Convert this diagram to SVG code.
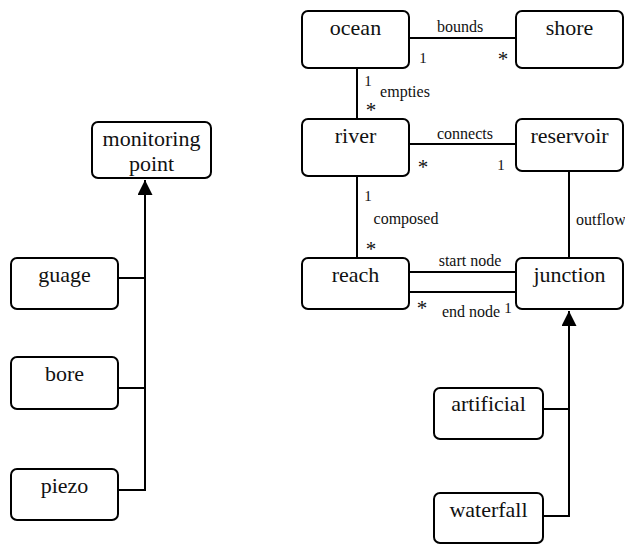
<svg xmlns="http://www.w3.org/2000/svg" width="625" height="544" viewBox="0 0 625 544">
<defs>
<marker id="tri" markerWidth="16" markerHeight="15" refX="15" refY="7.5" orient="auto" markerUnits="userSpaceOnUse">
<path d="M0,0 L15,7.5 L0,15 Z" fill="#000"/>
</marker>
</defs>
<g id="connectors">
<g fill="none" stroke="#000" stroke-width="2">
<line x1="409" y1="38" x2="516" y2="38"/>
<line x1="357" y1="68" x2="357" y2="119"/>
<line x1="409" y1="144" x2="516" y2="144"/>
<line x1="357" y1="176" x2="357" y2="258"/>
<line x1="409" y1="272" x2="516" y2="272"/>
<line x1="409" y1="292" x2="516" y2="292"/>
<line x1="569" y1="171" x2="569" y2="258"/>
<path d="M118,278 H145 M118,388 H145 M118,490 H145 V193"/>
<path d="M145,194 V180" marker-end="url(#tri)"/>
<path d="M543,409 H569 M543,516 H569 V326"/>
<path d="M569,327 V311" marker-end="url(#tri)"/>
</g>
<g font-family="Liberation Serif" font-size="16" fill="#111" text-anchor="middle">
<text font-family="Liberation Serif" x="460" y="32">bounds</text>
<text font-family="Liberation Serif" x="423" y="63" font-size="15">1</text>
<text font-family="Liberation Serif" x="503" y="66" font-size="21">*</text>
<text font-family="Liberation Serif" x="368" y="86" font-size="15">1</text>
<text font-family="Liberation Serif" x="405" y="97">empties</text>
<text font-family="Liberation Serif" x="371" y="117" font-size="21">*</text>
<text font-family="Liberation Serif" x="465" y="139">connects</text>
<text font-family="Liberation Serif" x="423" y="174" font-size="21">*</text>
<text font-family="Liberation Serif" x="501" y="170" font-size="15">1</text>
<text font-family="Liberation Serif" x="368" y="201" font-size="15">1</text>
<text font-family="Liberation Serif" x="406" y="224">composed</text>
<text font-family="Liberation Serif" x="371" y="256" font-size="21">*</text>
<text font-family="Liberation Serif" x="576" y="225" text-anchor="start">outflow</text>
<text font-family="Liberation Serif" x="470" y="266">start node</text>
<text font-family="Liberation Serif" x="422" y="315" font-size="21">*</text>
<text font-family="Liberation Serif" x="471" y="317">end node</text>
<text font-family="Liberation Serif" x="508" y="313" font-size="15">1</text>
</g>
</g>
<g font-family="Liberation Serif" font-size="22" fill="#111" text-anchor="middle">
<g id="ocean"><rect fill="#fff" stroke="#000" stroke-width="2" x="302" y="11" width="107" height="57" rx="6"/><text font-family="Liberation Serif" x="355.5" y="35">ocean</text></g>
<g id="shore"><rect fill="#fff" stroke="#000" stroke-width="2" x="516" y="11" width="107" height="57" rx="6"/><text font-family="Liberation Serif" x="569.5" y="35">shore</text></g>
<g id="river"><rect fill="#fff" stroke="#000" stroke-width="2" x="302" y="119" width="107" height="57" rx="6"/><text font-family="Liberation Serif" x="355.5" y="143">river</text></g>
<g id="reservoir"><rect fill="#fff" stroke="#000" stroke-width="2" x="516" y="119" width="107" height="52" rx="6"/><text font-family="Liberation Serif" x="569.5" y="143">reservoir</text></g>
<g id="reach"><rect fill="#fff" stroke="#000" stroke-width="2" x="302" y="258" width="107" height="51" rx="6"/><text font-family="Liberation Serif" x="355.5" y="282">reach</text></g>
<g id="junction"><rect fill="#fff" stroke="#000" stroke-width="2" x="516" y="258" width="107" height="51" rx="6"/><text font-family="Liberation Serif" x="569.5" y="282">junction</text></g>
<g id="monitoring-point"><rect fill="#fff" stroke="#000" stroke-width="2" x="92" y="122" width="119" height="56" rx="6"/><text font-family="Liberation Serif" x="151.5" y="146">monitoring</text><text font-family="Liberation Serif" x="151.5" y="171">point</text></g>
<g id="guage"><rect fill="#fff" stroke="#000" stroke-width="2" x="11" y="258" width="107" height="51" rx="6"/><text font-family="Liberation Serif" x="64.5" y="282">guage</text></g>
<g id="bore"><rect fill="#fff" stroke="#000" stroke-width="2" x="11" y="357" width="107" height="52" rx="6"/><text font-family="Liberation Serif" x="64.5" y="381">bore</text></g>
<g id="piezo"><rect fill="#fff" stroke="#000" stroke-width="2" x="11" y="469" width="107" height="51" rx="6"/><text font-family="Liberation Serif" x="64.5" y="493">piezo</text></g>
<g id="artificial"><rect fill="#fff" stroke="#000" stroke-width="2" x="434" y="388" width="109" height="51" rx="6"/><text font-family="Liberation Serif" x="488.5" y="411">artificial</text></g>
<g id="waterfall"><rect fill="#fff" stroke="#000" stroke-width="2" x="434" y="493" width="109" height="50" rx="6"/><text font-family="Liberation Serif" x="488.5" y="517">waterfall</text></g>
</g>
</svg>
